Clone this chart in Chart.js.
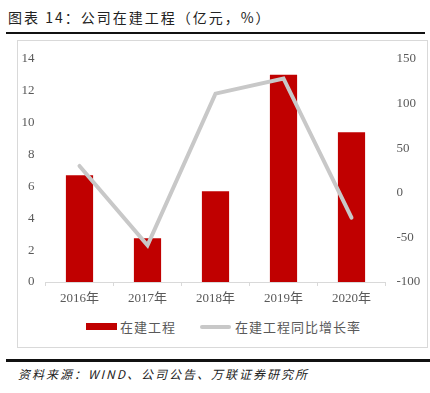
<!DOCTYPE html>
<html>
<head>
<meta charset="utf-8">
<script src="https://cdn.jsdelivr.net/npm/chart.js@4"></script>
<style>
  body { margin: 0; background: #fff; width: 430px; height: 393px; position: relative; overflow: hidden; }
  #title { position: absolute; left: 8px; top: 7px; font: 14px "Noto Sans CJK SC", sans-serif; color: #222; letter-spacing: 2px; }
  #topLine { position: absolute; left: 6px; top: 32px; width: 419px; height: 2px; background: #111; }
  #frame { position: absolute; left: 17px; top: 40px; width: 411px; height: 308px; border: 1px solid #d9d9d9; box-sizing: border-box; }
  #wrap { position: absolute; left: 17px; top: 40px; width: 411px; height: 270px; }
  #legend { position: absolute; top: 317px; left: 0; width: 430px; font: 13px "Noto Sans CJK SC", sans-serif; color: #595959; letter-spacing: 1px; }
  .item { position: absolute; top: 0; white-space: nowrap; }
  .box { position: absolute; top: 6px; width: 31px; height: 7px; }
  #botLine { position: absolute; left: 6px; top: 359px; width: 424px; height: 3px; background: #111; }
  #source { position: absolute; left: 18px; top: 365px; font: italic 12px "Noto Sans CJK SC", sans-serif; color: #222; letter-spacing: 2px; }
</style>
</head>
<body>
<div id="title">图表 14：公司在建工程（亿元，%）</div>
<div id="topLine"></div>
<div id="frame"></div>
<div id="wrap"><canvas id="chart" width="411" height="270"></canvas></div>
<div id="legend">
  <div class="item" style="left:86px"><span class="box" style="left:0;background:#c00000"></span><span style="margin-left:34px">在建工程</span></div>
  <div class="item" style="left:200px"><span class="box" style="left:0;top:8px;height:4px;border-radius:2px;background:#c8c8c8"></span><span style="margin-left:35px">在建工程同比增长率</span></div>
</div>
<div id="botLine"></div>
<div id="source">资料来源：WIND、公司公告、万联证券研究所</div>
<script>
const years = ["2016年", "2017年", "2018年", "2019年", "2020年"];
const cip = [6.7, 2.75, 5.7, 13.0, 9.4];
const cipGrowth = [30, -59, 111, 128, -28];

const numFont = { family: "'Liberation Serif', serif", size: 13 };
const gray = "#595959";

let ctx = document.getElementById("chart").getContext("2d");

let chart = new Chart(ctx, {
  type: 'bar',
  data: {
    labels: years,
    datasets: [{
      type: 'line',
      label: '在建工程同比增长率',
      data: cipGrowth,
      yAxisID: 'y1',
      borderColor: '#c8c8c8',
      borderWidth: 4,
      borderCapStyle: 'round',
      pointRadius: 0,
      tension: 0,
      fill: false,
      order: 0
    }, {
      label: '在建工程',
      data: cip,
      yAxisID: 'y',
      backgroundColor: '#c00000',
      barPercentage: 0.4,
      categoryPercentage: 1,
      order: 1
    }]
  },
  options: {
    responsive: false,
    animation: false,
    devicePixelRatio: 1,
    layout: { padding: { top: 17, left: 0, right: 0, bottom: 0 } },
    plugins: { legend: { display: false }, tooltip: { enabled: false } },
    scales: {
      x: {
        grid: { offset: true, drawOnChartArea: false, drawTicks: true, tickLength: 4, color: '#d9d9d9' },
        border: { color: '#d9d9d9' },
        ticks: { padding: 5, color: gray, font: { family: "'Liberation Serif', 'Noto Sans CJK SC', serif", size: 13 } },
        afterFit: function (s) { s.height = 28; }
      },
      y: {
        position: 'left',
        min: 0,
        max: 14,
        ticks: { stepSize: 2, padding: 11, color: gray, font: numFont },
        grid: { display: false, drawTicks: false },
        border: { display: false },
        afterFit: function (s) { s.width = 28.5; }
      },
      y1: {
        position: 'right',
        min: -100,
        max: 150,
        ticks: { stepSize: 50, padding: 11, color: gray, font: numFont },
        grid: { display: false, drawTicks: false },
        border: { display: false },
        afterFit: function (s) { s.width = 42.5; }
      }
    }
  }
});
</script>
</body>
</html>
